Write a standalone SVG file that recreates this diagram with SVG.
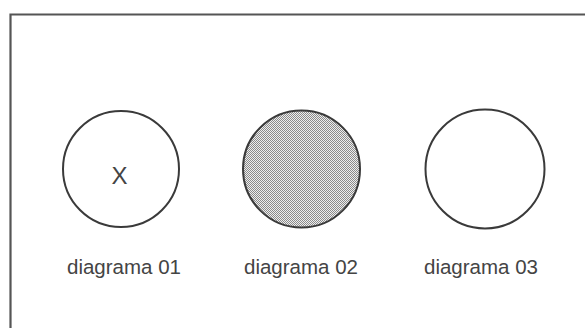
<svg xmlns="http://www.w3.org/2000/svg" width="585" height="328" viewBox="0 0 585 328">
<style>
.frame{fill:none;stroke:#555;stroke-width:2.2}
.node{stroke:#3a3a3a;stroke-width:2;fill:#fff}
.lbl{font-family:"Liberation Sans",Arial,sans-serif;font-size:20.5px;fill:#444}
</style>
<defs>
<pattern id="dots" width="2" height="2" patternUnits="userSpaceOnUse">
<rect width="2" height="2" fill="#eeeeee"/>
<rect x="0" y="0" width="1" height="1" fill="#8a8a8a"/>
<rect x="1" y="1" width="1" height="1" fill="#8a8a8a"/>
</pattern>
</defs>
<rect width="585" height="328" fill="#fff"/>
<path class="frame" d="M10.5 330 V14.5 H590"/>
<g id="connectors"></g>
<g id="diagrama01">
<circle class="node" cx="121" cy="169" r="58"/>
<text class="lbl" x="119.5" y="183.5" text-anchor="middle" style="font-size:24px">X</text>
<text class="lbl" x="67" y="274">diagrama 01</text>
</g>
<g id="diagrama02">
<circle class="node" cx="301.5" cy="169" r="58.5" style="fill:url(#dots)"/>
<text class="lbl" x="244" y="274">diagrama 02</text>
</g>
<g id="diagrama03">
<circle class="node" cx="485" cy="169" r="59.5"/>
<text class="lbl" x="424" y="274">diagrama 03</text>
</g>
</svg>
